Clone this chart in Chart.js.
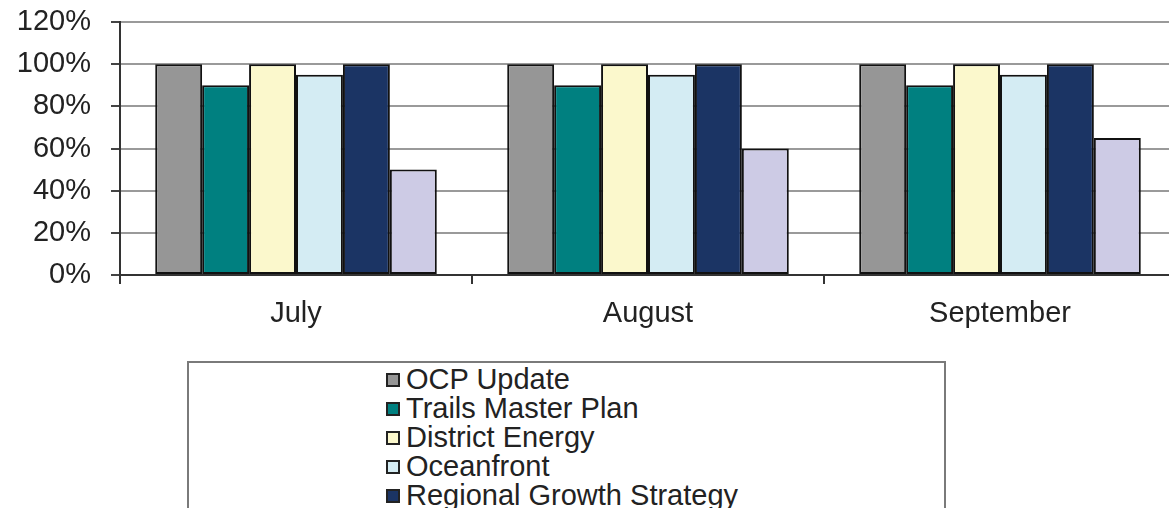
<!DOCTYPE html>
<html>
<head>
<meta charset="utf-8">
<script src="https://cdn.jsdelivr.net/npm/chart.js@4/dist/chart.umd.min.js"></script>
<style>
  html, body { margin: 0; padding: 0; background: #fff; overflow: hidden; }
  #wrap { position: relative; width: 1180px; height: 508px; }
  #legendBox {
    position: absolute; left: 187px; top: 361px; width: 759px; height: 200px;
    border: 2px solid #7a7a7a; box-sizing: border-box; background: #fff;
  }
  #legendBox ul { list-style: none; margin: 0; padding: 0 0 0 197px; }
  #legendBox li {
    height: 29px; line-height: 27px; font: 29px "Liberation Sans", Arial, sans-serif;
    color: #222; white-space: nowrap;
  }
  #legendBox li span.box {
    display: inline-block; width: 10px; height: 10px; border: 2px solid #222;
    margin-right: 6px; vertical-align: 2px;
  }
</style>
</head>
<body>
<div id="wrap">
  <canvas id="progressChart" width="1180" height="508"></canvas>
  <div id="legendBox"><ul id="legendList"></ul></div>
</div>
<script>
const months = ["July", "August", "September"];
const projects = ["OCP Update", "Trails Master Plan", "District Energy", "Oceanfront", "Regional Growth Strategy", "Other Projects"];
const colours = ["#969696", "#008080", "#fbf8cc", "#d4ecf3", "#1b3464", "#cdcbe5"];

// percent complete per project, one value per month
const ocpUpdate = [100, 100, 100];
const trailsPlan = [90, 90, 90];
const districtEnergy = [100, 100, 100];
const oceanfront = [95, 95, 95];
const regionalGrowth = [100, 100, 100];
const otherProjects = [50, 60, 65];

const yTicks = [0, 20, 40, 60, 80, 100, 120];

const seriesData = [ocpUpdate, trailsPlan, districtEnergy, oceanfront, regionalGrowth, otherProjects];

const datasets = projects.map((name, i) => ({
    label: name,
    data: seriesData[i],
    backgroundColor: colours[i],
    borderColor: "#111",
    borderWidth: 2,
    borderSkipped: false,
    categoryPercentage: 0.8,
    barPercentage: 1.0
}));

const axisFont = { family: "'Liberation Sans', Arial, sans-serif", size: 29 };

const ctx = document.getElementById("progressChart").getContext("2d");
new Chart(ctx, {
    type: "bar",
    data: { labels: months, datasets: datasets },
    options: {
        responsive: false,
        animation: false,
        layout: { padding: { top: 22, right: 4, left: 0, bottom: 0 } },
        plugins: {
            legend: { display: false },
            tooltip: { enabled: false }
        },
        scales: {
            x: {
                grid: { drawOnChartArea: false, tickLength: 9, tickColor: "#333", lineWidth: 2 },
                border: { color: "#333", width: 2 },
                ticks: { color: "#222", font: axisFont, padding: 13 },
                afterFit: (scale) => { scale.height = 233; }
            },
            y: {
                min: 0,
                max: 120,
                afterBuildTicks: (scale) => { scale.ticks = yTicks.map(v => ({ value: v })); },
                grid: { color: "#9a9a9a", lineWidth: 2, tickLength: 9, tickColor: "#444" },
                border: { color: "#333", width: 2 },
                ticks: { color: "#222", font: axisFont, padding: 20, callback: (v) => v + "%" },
                afterFit: (scale) => {
                    scale.width = 120;
                    scale.paddingTop = 0;
                    scale.paddingBottom = 0;
                }
            }
        }
    }
});

// boxed legend under the plot
const list = document.getElementById("legendList");
projects.forEach((name, i) => {
    const li = document.createElement("li");
    li.innerHTML = `<span class="box" style="background:${colours[i]}"></span>${name}`;
    list.appendChild(li);
});
</script>
</body>
</html>
